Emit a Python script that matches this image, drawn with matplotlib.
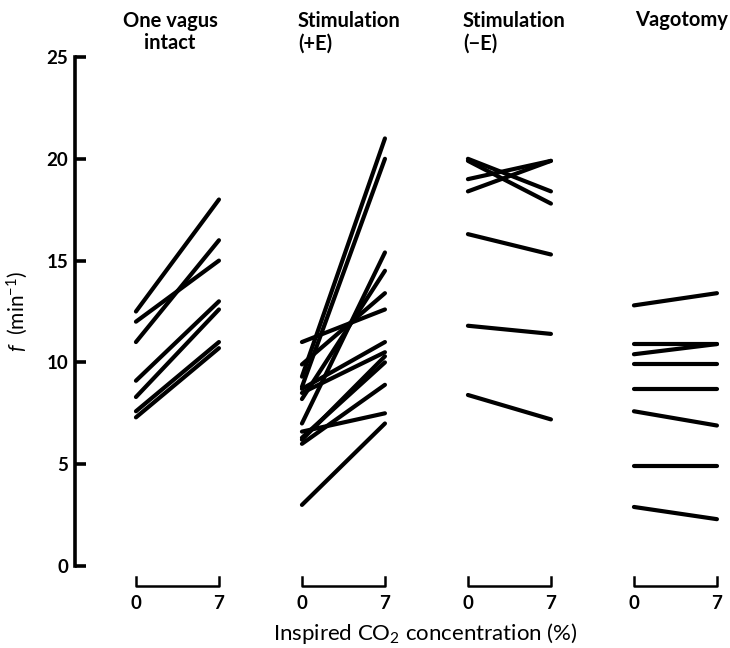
import matplotlib
matplotlib.use("Agg")
import matplotlib.pyplot as plt

# breathing frequency (min^-1) at 0 % and 7 % inspired CO2, one line per animal
GROUPS = ["One vagus\nintact", "Stimulation\n(+E)", "Stimulation\n(\u2212E)", "Vagotomy"]

vagus_0 = [12.5, 12.0, 11.0, 9.1, 8.3, 7.6, 7.3]
vagus_7 = [18.0, 15.0, 16.0, 13.0, 12.6, 11.0, 10.7]

stim_pos_0 = [11.0, 9.9, 9.3, 8.8, 8.7, 8.5, 8.2, 7.0, 6.6, 6.3, 6.0, 6.2, 3.0]
stim_pos_7 = [12.6, 13.4, 21.0, 20.0, 11.0, 10.5, 14.5, 15.4, 7.5, 10.0, 8.9, 10.3, 7.0]

stim_neg_0 = [20.0, 19.9, 19.0, 18.4, 16.3, 11.8, 8.4]
stim_neg_7 = [18.4, 17.8, 19.9, 19.9, 15.3, 11.4, 7.2]

vagot_0 = [12.8, 10.9, 10.4, 9.9, 8.7, 7.6, 4.9, 2.9]
vagot_7 = [13.4, 10.9, 10.9, 9.9, 8.7, 6.9, 4.9, 2.3]

CO2 = [0, 7]
YTICKS = [0, 5, 10, 15, 20, 25]

plt.rcParams["font.family"] = ["Lato", "DejaVu Sans"]
plt.rcParams["mathtext.fontset"] = "custom"
plt.rcParams["mathtext.rm"] = "Lato"
plt.rcParams["mathtext.it"] = "Lato:italic"

fig = plt.figure(figsize=(7.3, 6.48), dpi=100)
ax = fig.add_axes([75 / 730, 82 / 648, 650 / 730, 509 / 648])

SPACING = 14  # x offset between groups, in CO2 units
data = [(vagus_0, vagus_7), (stim_pos_0, stim_pos_7),
        (stim_neg_0, stim_neg_7), (vagot_0, vagot_7)]

for g, (a, b) in enumerate(data):
    off = g * SPACING
    for y0, y7 in zip(a, b):
        ax.plot([CO2[0] + off, CO2[1] + off], [y0, y7], color="black",
                lw=3.0, solid_capstyle="round")
    # bracket x-axis under each group
    ax.plot([off, off, off + 7, off + 7], [-0.52, -0.98, -0.98, -0.52],
            color="black", lw=1.8, clip_on=False)
    for v in CO2:
        ax.text(off + v, -1.85, str(v), ha="center", va="center",
                fontsize=13.5, fontweight="bold")

ax.set_xlim(-5.14, 49.68)
ax.set_ylim(0, 25)
ax.set_yticks(YTICKS)
ax.set_xticks([])
for s in ["top", "right", "bottom"]:
    ax.spines[s].set_visible(False)
ax.spines["left"].set_linewidth(2.6)
ax.tick_params(axis="y", direction="in", length=8, width=2.6, pad=5,
               labelsize=13.5)
for lab in ax.get_yticklabels():
    lab.set_fontweight("bold")

ax.set_ylabel(r"$f$  (min$^{-1}$)", fontsize=15, labelpad=12)
fig.text(425 / 730, 1 - 633 / 648, r"Inspired CO$_2$ concentration (%)",
         ha="center", va="center", fontsize=16)

# group titles
kw = dict(fontsize=14.5, fontweight="bold", linespacing=1.15, va="center")
fig.text(170 / 730, 1 - 32 / 648, GROUPS[0], ha="center", **kw)
fig.text(298 / 730, 1 - 32 / 648, GROUPS[1], ha="left", **kw)
fig.text(463 / 730, 1 - 32 / 648, GROUPS[2], ha="left", **kw)
fig.text(728 / 730, 1 - 20 / 648, GROUPS[3], ha="right", **kw)

fig.savefig("out.png", dpi=100)
